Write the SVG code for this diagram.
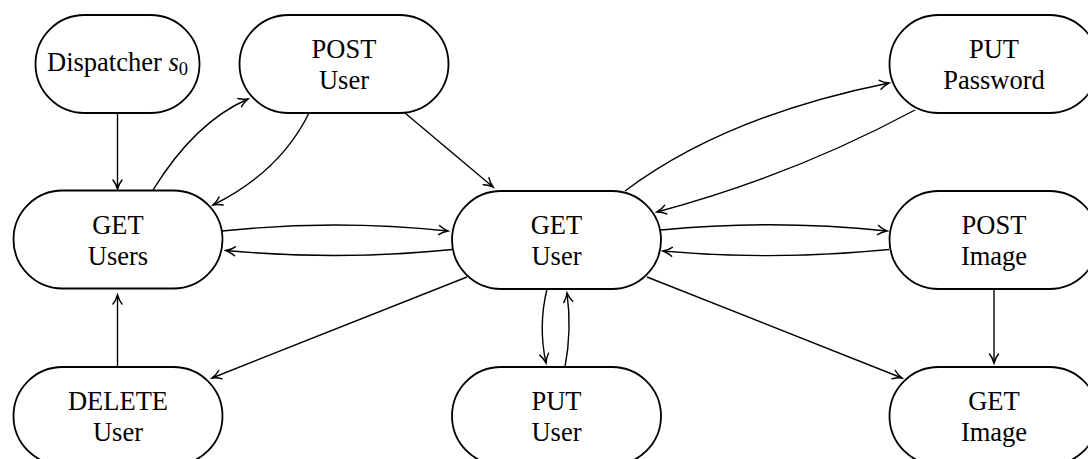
<svg xmlns="http://www.w3.org/2000/svg" width="1088" height="459" viewBox="0 0 1088 459">
<style>
.n rect{fill:#fff;stroke:#000;stroke-width:1.8}
.n text{font-family:'Liberation Serif','Times New Roman',serif;font-size:26.5px;text-anchor:middle;fill:#000}
#edges path{fill:none;stroke:#000;stroke-width:1.4;marker-end:url(#arr)}
</style>
<defs>
<marker id="arr" markerUnits="userSpaceOnUse" markerWidth="14" markerHeight="12" viewBox="-11 -6 12 12" refX="0" refY="0" orient="auto" overflow="visible">
<path d="M-9,-4.5 C-6,-2 -2,-0.6 0,0 C-2,0.6 -6,2 -9,4.5" fill="none" stroke="#000" stroke-width="1.5" stroke-linecap="round"/>
</marker>
</defs>
<rect width="1088" height="459" fill="#fff"/>
<g id="edges">
<path d="M117.5,113 L117.5,189"/>
<path d="M153,190 Q195,122 248,99"/>
<path d="M309,113 Q280,172 213,205"/>
<path d="M222,231 Q335,219 448,231"/>
<path d="M452,249.5 Q339,261 226,250.5"/>
<path d="M405,113 L493,187"/>
<path d="M625,191 Q725,116 889,83"/>
<path d="M915,110 Q792,176 657,212"/>
<path d="M661,230 Q774,219 887,231"/>
<path d="M889,249.5 Q776,261 663,251"/>
<path d="M467,277 L212,378"/>
<path d="M547,289 Q538,326 546,363"/>
<path d="M565,367 Q572,330 567,293"/>
<path d="M647,277 L902,378"/>
<path d="M994,289 L994,363"/>
<path d="M117.5,367 L117.5,295"/>
</g>
<g id="dispatcher" class="n"><rect x="35.5" y="15" width="164" height="98" rx="49"/><text x="117.5" y="71">Dispatcher <tspan font-style="italic">s</tspan><tspan font-size="18.5" dy="3.5">0</tspan></text></g>
<g id="post-user" class="n"><rect x="239.5" y="15" width="209" height="98" rx="49"/><text x="344" y="58">POST</text><text x="344" y="89">User</text></g>
<g id="put-password" class="n"><rect x="889.5" y="15" width="209" height="98" rx="49"/><text x="994" y="58">PUT</text><text x="994" y="89">Password</text></g>
<g id="get-users" class="n"><rect x="13.5" y="190.5" width="209" height="98" rx="49"/><text x="118" y="234">GET</text><text x="118" y="265">Users</text></g>
<g id="get-user" class="n"><rect x="452" y="191" width="209" height="98" rx="49"/><text x="556.5" y="234">GET</text><text x="556.5" y="265">User</text></g>
<g id="post-image" class="n"><rect x="889.5" y="191" width="209" height="98" rx="49"/><text x="994" y="234">POST</text><text x="994" y="265">Image</text></g>
<g id="delete-user" class="n"><rect x="13.5" y="367" width="209" height="98" rx="49"/><text x="118" y="410">DELETE</text><text x="118" y="441">User</text></g>
<g id="put-user" class="n"><rect x="452" y="367" width="209" height="98" rx="49"/><text x="556.5" y="410">PUT</text><text x="556.5" y="441">User</text></g>
<g id="get-image" class="n"><rect x="889.5" y="367" width="209" height="98" rx="49"/><text x="994" y="410">GET</text><text x="994" y="441">Image</text></g>
</svg>
